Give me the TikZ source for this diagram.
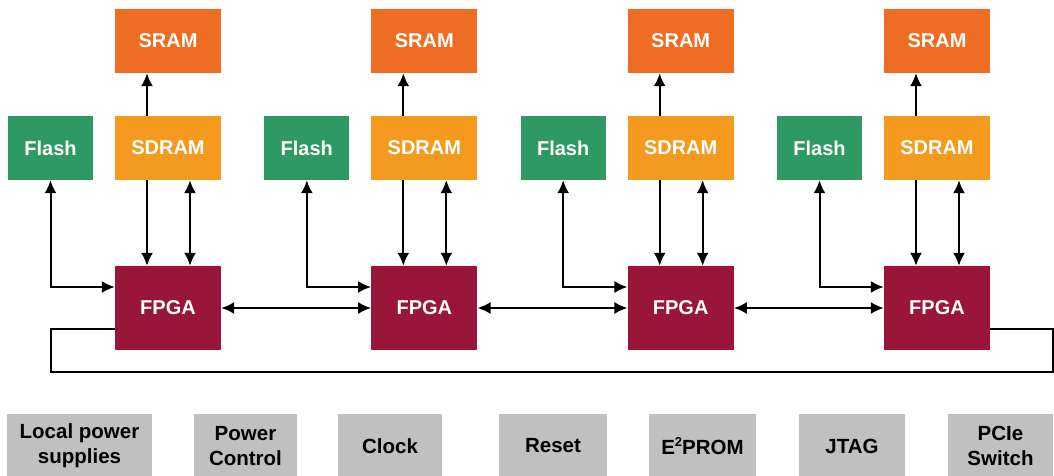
\documentclass[tikz,border=0pt]{standalone}
\usepackage{fontspec}
\setmainfont{Liberation Sans}
\usetikzlibrary{arrows.meta}
\definecolor{flashGreen}{HTML}{2E9963}
\definecolor{sdramOrange}{HTML}{F39A1F}
\definecolor{sramOrange}{HTML}{EE6C23}
\definecolor{fpgaRed}{HTML}{9A1638}
\definecolor{auxGray}{HTML}{C0C0C0}
\tikzset{
  arr/.style={-{Latex[length=13pt,width=12pt]}, line width=2pt},
  biarr/.style={{Latex[length=13pt,width=12pt]}-{Latex[length=13pt,width=12pt]}, line width=2pt},
  wire/.style={line width=2pt},
  blk/.style={fill=#1, text=white, font=\fontsize{20}{24}\selectfont\bfseries,
    minimum width=106pt, minimum height=64pt, inner sep=0pt},
  aux/.style={fill=auxGray, text=black, font=\fontsize{20.5}{25}\selectfont\bfseries,
    align=center, minimum height=64pt, inner sep=0pt}
}

\begin{document}
\begin{tikzpicture}[x=1pt,y=-1pt]
  \useasboundingbox (0,0) rectangle (1054,476);
  % four FPGA blocks
  \foreach \i in {1,...,4}{
    \pgfmathsetmacro{\cx}{168+256.33*(\i-1)}
    \node[blk=sramOrange] (sram\i) at (\cx,41) {SRAM};
    \node[blk=sdramOrange] (sdram\i) at (\cx,148) {SDRAM};
    \node[blk=flashGreen, minimum width=85pt] (flash\i) at (\cx-117.5,148) {Flash};
    \node[blk=fpgaRed, minimum height=84pt] (fpga\i) at (\cx,308) {FPGA};
    \draw[arr] ([xshift=-21pt]sdram\i.north) -- ([xshift=-21pt]sram\i.south);
    \draw[arr] ([xshift=-21pt]sdram\i.south) -- ([xshift=-21pt]fpga\i.north);
    \draw[biarr] ([xshift=22pt]sdram\i.south) -- ([xshift=22pt]fpga\i.north);
    \draw[biarr] (flash\i.south) |- ([yshift=21pt]fpga\i.west);
  }
  \foreach \i/\j in {1/2,2/3,3/4}
    \draw[biarr] (fpga\i) -- (fpga\j);
  % ring back from last to first
  \coordinate (loopR) at (1053,372);
  \draw[wire] ([yshift=-21pt]fpga1.west) -| (flash1.south |- loopR) -- (loopR)
    |- ([yshift=-21pt]fpga4.east);
  % board support parts
  \foreach \cx/\w/\txt [count=\k] in {79.5/145/{Local power\\supplies},
      245.5/103/{Power\\Control}, 390/104/Clock, 553/108/Reset,
      702.5/107/{E\raisebox{0.75ex}{\fontsize{13}{13}\selectfont 2}PROM}, 852/106/JTAG,
      1000.5/105/{PCIe\\Switch}}
    \node[aux, minimum width=\w pt] (aux\k) at (\cx,446) {\txt};
\end{tikzpicture}
\end{document}
